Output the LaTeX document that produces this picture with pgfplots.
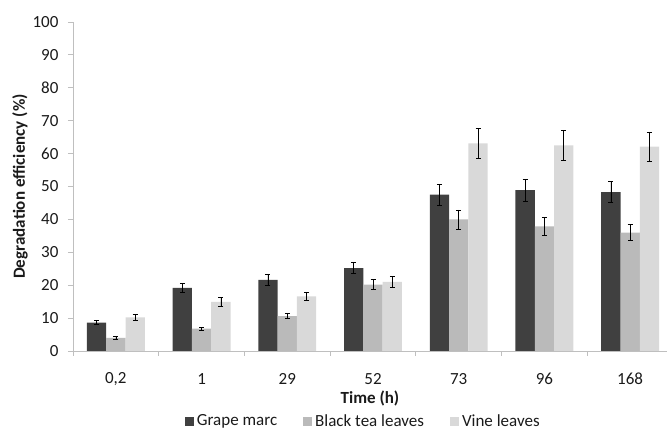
\documentclass[border=0pt]{standalone}
\usepackage{pgfplots}
\pgfplotsset{compat=1.18}
\usepackage{fontspec}
\setmainfont{Carlito}
\definecolor{gm}{HTML}{404040}
\definecolor{bt}{HTML}{BABABA}
\definecolor{vl}{HTML}{D9D9D9}
\definecolor{axc}{HTML}{BFBFBF}
\definecolor{txt}{HTML}{1A1A1A}
\begin{document}
\begin{tikzpicture}[font=\fontsize{17}{20}\selectfont, text=txt]
\useasboundingbox (-73pt,-80pt) rectangle (594pt,351pt);
\begin{axis}[
  scale only axis, width=594pt, height=329pt,
  anchor=south west, at={(0pt,0pt)},
  /pgf/number format/assume math mode=true,
  ybar=0pt, bar width=19.3pt,
  xmin=-0.5, xmax=6.43, ymin=0, ymax=100,
  axis lines=left, axis line style={axc, line width=0.8pt, -},
  xtick={0,...,6}, xticklabels={{0,2},1,29,52,73,96,168},
  major x tick style={draw=none},
  minor xtick={-0.5,0.5,...,5.5},
  minor x tick style={axc, line width=0.8pt},
  ytick={0,10,...,100},
  y tick style={axc, line width=0.8pt},
  tick align=outside, major tick length=5pt, minor tick length=5pt,
  xticklabel style={anchor=center, yshift=-23pt},
  yticklabel style={anchor=east, xshift=-6pt},
  every axis x label/.style={at={(axis description cs:0.5,0)}, yshift=-47pt, anchor=center, font=\fontsize{17}{20}\selectfont\bfseries},
  every axis y label/.style={at={(axis description cs:0,0.5)}, xshift=-53pt, anchor=center, rotate=90, font=\fontsize{17}{20}\selectfont\bfseries},
  xlabel={Time (h)}, ylabel={Degradation efficiency (\%)},
  legend columns=3,
  legend style={draw=none, fill=none, at={(0.487,-0.213)}, anchor=center, font=\fontsize{17}{20}\selectfont, inner sep=0pt, nodes={inner sep=0pt}},
  legend image code/.code={\fill[#1] (0pt,-4.5pt) rectangle (9pt,4.5pt); \path (12pt,0pt);},
  error bars/y dir=both, error bars/y explicit,
  error bars/error mark options={rotate=90, mark size=2.5pt, line width=0.7pt, black},
  error bars/error bar style={line width=0.7pt, black},
  clip=false,
]
\addplot[fill=gm, draw=none] coordinates {
 (0,8.6) +- (0,0.6) (1,19.2) +- (0,1.3) (2,21.6) +- (0,1.6) (3,25.2) +- (0,1.7)
 (4,47.5) +- (0,3.2) (5,48.9) +- (0,3.3) (6,48.3) +- (0,3.2)};
\addplot[fill=bt, draw=none] coordinates {
 (0,4.0) +- (0,0.4) (1,6.8) +- (0,0.4) (2,10.6) +- (0,0.7) (3,20.2) +- (0,1.5)
 (4,40.0) +- (0,2.9) (5,37.9) +- (0,2.8) (6,36.0) +- (0,2.5)};
\addplot[fill=vl, draw=none] coordinates {
 (0,10.2) +- (0,0.8) (1,14.9) +- (0,1.3) (2,16.6) +- (0,1.3) (3,21.0) +- (0,1.6)
 (4,63.1) +- (0,4.6) (5,62.5) +- (0,4.5) (6,62.1) +- (0,4.5)};
\legend{Grape marc\rule{26pt}{0pt}, Black tea leaves\rule{26pt}{0pt}, Vine leaves}
\end{axis}
\end{tikzpicture}
\end{document}
